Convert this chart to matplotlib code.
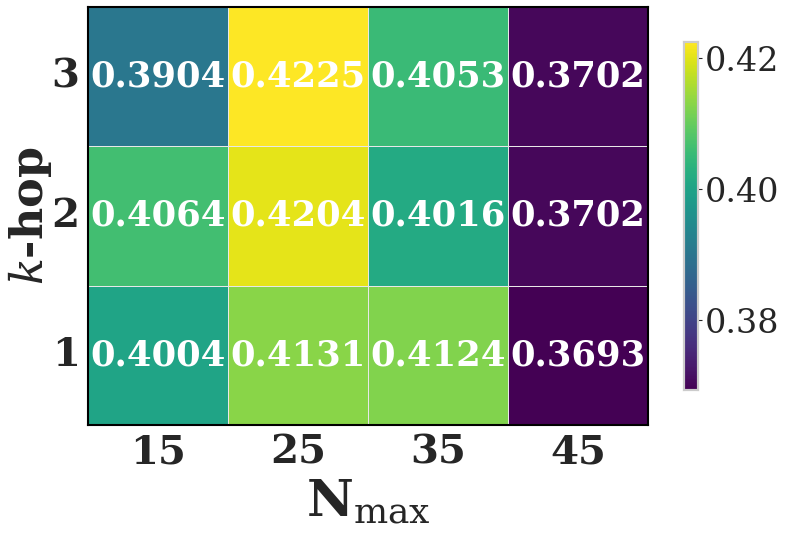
import numpy as np
import matplotlib
matplotlib.use("Agg")
import matplotlib.pyplot as plt
import seaborn as sns

rows = ["3", "2", "1"]
cols = ["15", "25", "35", "45"]
values = [
    [0.3904, 0.4225, 0.4053, 0.3702],
    [0.4064, 0.4204, 0.4016, 0.3702],
    [0.4004, 0.4131, 0.4124, 0.3693],
]

sns.set_theme(style="white")
plt.rcParams['font.family'] = ['DejaVu Serif']
plt.rcParams['mathtext.fontset'] = 'dejavuserif'

fig = plt.figure(figsize=(7.93, 5.37), dpi=100)
ax = fig.add_axes([88/793, 1-425/537, 560/793, 418/537])
cax = fig.add_axes([684/793, 1-390/537, 14/793, 348/537])

data = np.array(values)
sns.heatmap(data, ax=ax, cbar_ax=cax, cmap="viridis", annot=True, fmt=".4f",
            linewidths=0.6, linecolor="#e8e8e8",
            annot_kws={"fontsize": 25.5, "fontweight": "bold", "color": "white"},
            xticklabels=cols, yticklabels=rows)

for s in ax.spines.values():
    s.set_visible(True)
    s.set_color("black")
    s.set_linewidth(1.5)

ax.tick_params(axis='both', length=0, pad=6)
for t in ax.get_xticklabels():
    t.set_fontsize(29); t.set_fontweight('bold'); t.set_color('#262626')
for t in ax.get_yticklabels():
    t.set_fontsize(29); t.set_fontweight('bold'); t.set_color('#262626'); t.set_rotation(0)

ax.set_xlabel(r'$\mathbf{N}_{\rm max}$', fontsize=37, color='#262626', labelpad=5)
ax.set_ylabel(r'$k$-hop', fontsize=32, fontweight='bold', color='#262626', labelpad=-2)

cax.tick_params(labelsize=24, length=3, width=0.8, colors='#262626', pad=2)
cax.yaxis.set_ticks([0.38, 0.40, 0.42])
cax.set_yticklabels(["0.38", "0.40", "0.42"])
for s in cax.spines.values():
    s.set_visible(True)
    s.set_color("#cccccc")
    s.set_linewidth(1.5)

fig.savefig("out.png", dpi=100)
